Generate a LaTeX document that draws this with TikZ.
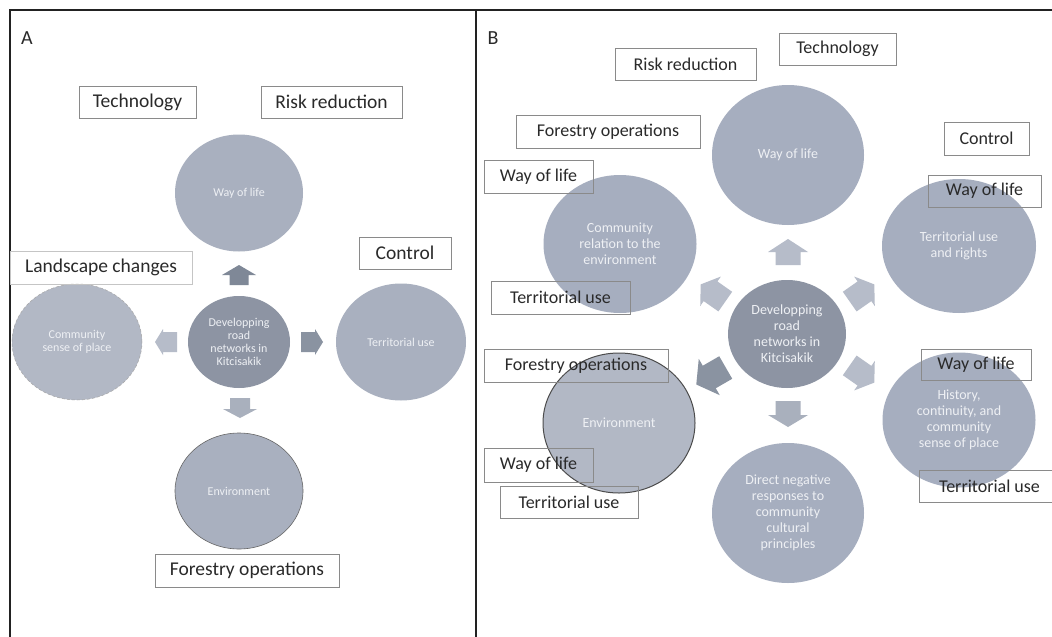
\documentclass[tikz,border=0pt]{standalone}
\usepackage{fontspec}
\setmainfont{Carlito}
\usetikzlibrary{shapes.geometric}
\definecolor{bub}{HTML}{A9B0BF}
\definecolor{bubB}{HTML}{A6AEBF}
\definecolor{bubL}{HTML}{B2B8C5}
\definecolor{bubC}{HTML}{8D94A3}
\definecolor{bubtext}{HTML}{EEF0F4}
\definecolor{tagline}{HTML}{8A8A8A}
\definecolor{tagtext}{HTML}{2A2A2A}
\definecolor{frame}{HTML}{222222}
\definecolor{arD}{HTML}{7F8897}
\definecolor{arM}{HTML}{A9B0BD}
\definecolor{arL}{HTML}{B6BCC9}
\definecolor{arK}{HTML}{8A93A1}
\newcommand{\blkarrow}[7]{%
  \fill[#1, shift={(#2)}, rotate=#3] ({-#4/2},{#6}) -- ({#4/2-#5},{#6}) -- ({#4/2-#5},{#7}) -- ({#4/2},0) -- ({#4/2-#5},{-#7}) -- ({#4/2-#5},{-#6}) -- ({-#4/2},{-#6}) -- cycle;}
\tikzset{
  bubble/.style={ellipse, fill=bub, inner sep=0pt, align=center, text=bubtext, font=\fontsize{12}{13}\selectfont},
  bubbleB/.style={bubble, fill=bubB, font=\fontsize{14}{16}\selectfont},
  tag/.style={draw=tagline, line width=0.9pt, inner sep=0pt, text=tagtext, font=\fontsize{19.5}{22}\selectfont, minimum height=32pt},
  tagB/.style={tag, font=\fontsize{18}{21}\selectfont},
  panel/.style={text=tagtext, font=\fontsize{20}{22}\selectfont},
}
\begin{document}
\begin{tikzpicture}[x=1pt, y=-1pt]
\useasboundingbox (0,0) rectangle (1052,637);
\fill[white] (0,0) rectangle (1052,637);
% frames
\draw[frame, line width=2pt] (10,637) -- (10,10) -- (1052,10);
\draw[frame, line width=2pt] (476,10) -- (476,637);
\node[panel] (labA) at (27,38) {A};
\node[panel] (labB) at (493,38) {B};

% ---------------- Panel A ----------------
\node[bubble, minimum width=128pt, minimum height=117pt] (wolA) at (239,193) {Way of life};
\node[bubble, fill=bubL, draw=gray!70, densely dashed, line width=0.5pt, minimum width=130pt, minimum height=116pt] (comA) at (77,342) {Community\\sense of place};
\node[bubble, fill=bubC, minimum width=102pt, minimum height=92pt] (ctrA) at (239,342) {Developping\\road\\networks in\\Kitcisakik};
\node[bubble, minimum width=130pt, minimum height=117pt] (terA) at (401,342) {Territorial use};
\node[bubble, draw=gray!80!black, line width=0.6pt, minimum width=128pt, minimum height=116pt] (envA) at (239,491) {Environment};

\blkarrow{arD}{239,275}{90}{20}{10}{9.5}{17}
\blkarrow{arL}{166,342}{180}{22}{8}{10}{13}
\blkarrow{arK}{312,342}{0}{22}{8}{10}{13}
\blkarrow{arM}{240,408}{-90}{20}{9}{10}{17}

\node[tag, minimum width=117pt] (techA) at (137.5,102) {Technology};
\node[tag, minimum width=141pt] (riskA) at (331.5,102) {Risk reduction};
\node[tag, draw=tagline!50, minimum width=182pt, minimum height=33pt] (landA) at (101,267.5) {Landscape changes};
\node[tag, minimum width=92pt] (contA) at (405,253) {Control};
\node[tag, minimum width=184pt, minimum height=33pt] (forA) at (247,570.5) {Forestry operations};

% ---------------- Panel B ----------------
\node[bubbleB, minimum width=152pt, minimum height=140pt] (wolB) at (788,155) {Way of life};
\node[bubbleB, minimum width=153pt, minimum height=138pt] (comB) at (620,244) {Community\\relation to the\\environment};
\node[bubbleB, minimum width=154pt, minimum height=134pt] (terB) at (959,246) {Territorial use\\and rights};
\node[bubbleB, fill=bubC, minimum width=118pt, minimum height=108pt] (ctrB) at (787,334) {Developping\\road\\networks in\\Kitcisakik};
\node[bubbleB, fill=bubL, draw=gray!60!black, line width=1pt, minimum width=152pt, minimum height=140pt] (envB) at (619,423) {Environment};
\node[bubbleB, minimum width=153pt, minimum height=135pt] (hisB) at (959,420) {History,\\continuity, and\\community\\sense of place};
\node[bubbleB, minimum width=152pt, minimum height=140pt] (dirB) at (788,513) {Direct negative\\responses to\\community\\cultural\\principles};

\blkarrow{arL}{788,252}{90}{26}{13}{12.5}{20}
\blkarrow{arL}{713,293}{145}{30}{12}{12}{18}
\blkarrow{arL}{862,293}{35}{30}{12}{12}{18}
\blkarrow{arK}{711,376}{210}{34}{15}{13}{21}
\blkarrow{arL}{862,374}{-35}{30}{12}{12}{18}
\blkarrow{arM}{788,414}{-90}{26}{12}{12.5}{20}

\node[tagB, minimum width=141pt] (riskB) at (685.5,64) {Risk reduction};
\node[tagB, minimum width=117pt] (techB) at (837.5,49) {Technology};
\node[tagB, minimum width=184pt, minimum height=33pt] (forB1) at (608,131.5) {Forestry operations};
\node[tagB, minimum width=85pt, minimum height=33pt] (contB) at (986.5,138.5) {Control};
\node[tagB, minimum width=109pt, minimum height=33pt] (wolB1) at (538.5,176.5) {Way of life};
\node[tagB, minimum width=113pt] (wolB2) at (984.5,191) {Way of life};
\node[tagB, minimum width=139pt, minimum height=33pt] (terB1) at (560.5,297.5) {Territorial use};
\node[tagB, minimum width=184pt, minimum height=33pt] (forB2) at (576,365.5) {Forestry operations};
\node[tagB, minimum width=110pt, minimum height=31pt] (wolB3) at (976,364.5) {Way of life};
\node[tagB, minimum width=141pt] (terB2) at (989.5,486) {Territorial use};
\node[tagB, minimum width=109pt, minimum height=34pt] (wolB4) at (538.5,465) {Way of life};
\node[tagB, minimum width=138pt] (terB3) at (569,502) {Territorial use};
\end{tikzpicture}
\end{document}
